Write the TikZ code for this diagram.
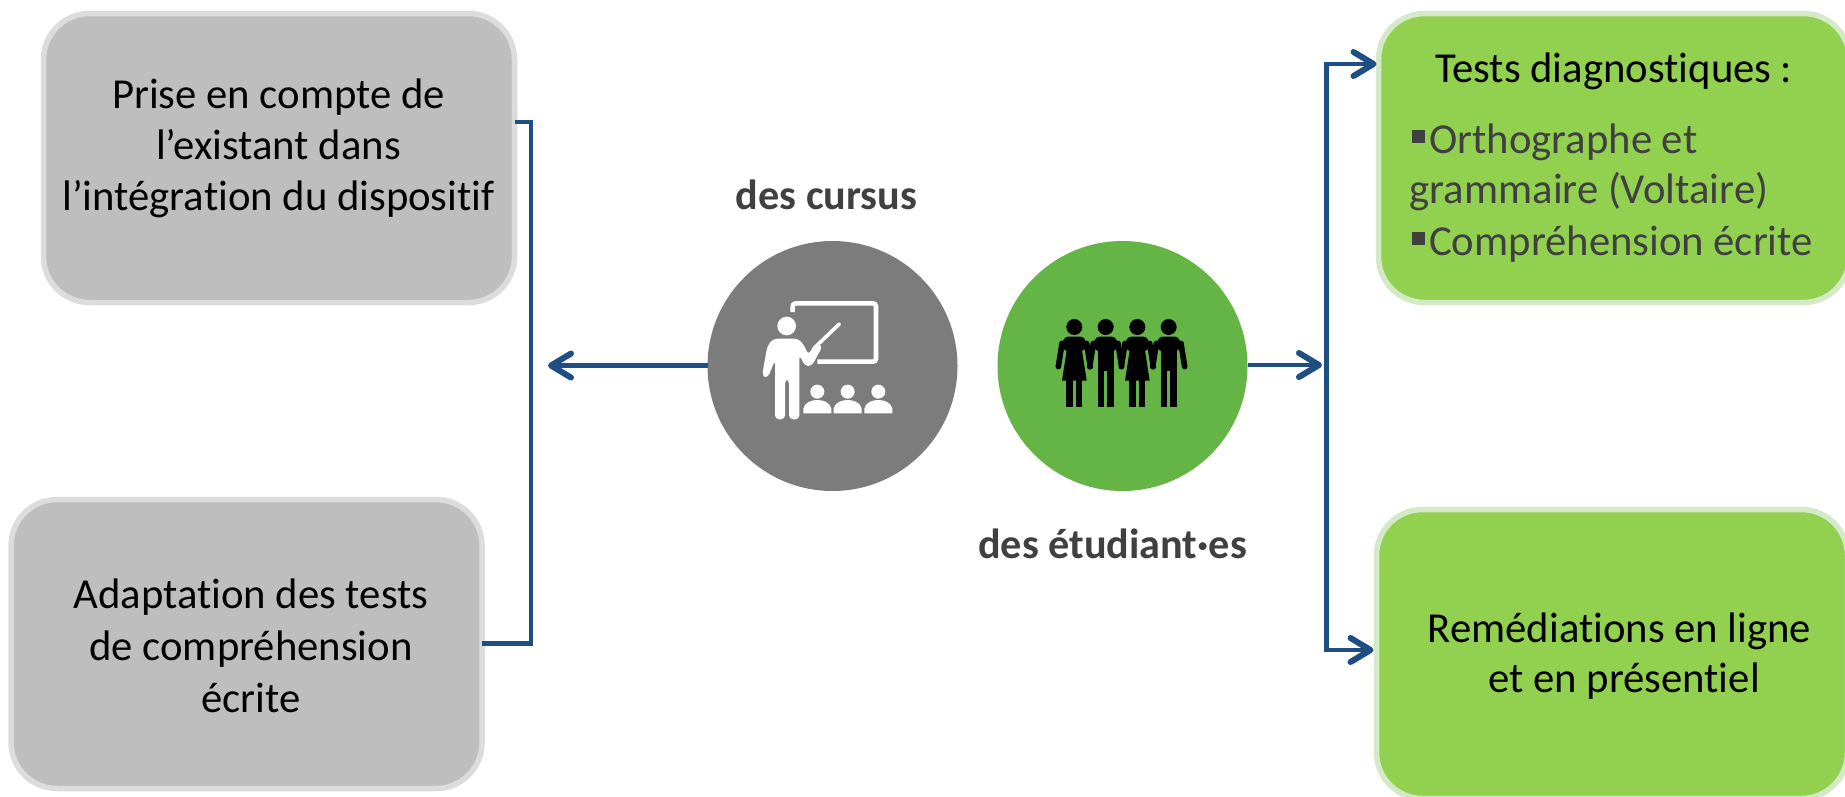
\documentclass[tikz,border=0pt]{standalone}
\usepackage{fontspec}
\setmainfont{Carlito}[Ligatures=NoCommon]
\usetikzlibrary{arrows.meta,calc}
\definecolor{linkblue}{HTML}{1F4E82}
\definecolor{boxgray}{HTML}{BEBEBE}
\definecolor{boxgrayline}{HTML}{DCDCDC}
\definecolor{boxgreen}{HTML}{92D14F}
\definecolor{boxgreenline}{HTML}{D4E9C7}
\definecolor{circgray}{HTML}{7C7C7C}
\definecolor{circgreen}{HTML}{64B446}
\definecolor{darktext}{HTML}{404040}
\tikzset{
  graybox/.style={draw=boxgrayline,fill=boxgray,line width=5.5pt,rounded corners=46pt,minimum width=471pt,minimum height=289pt,inner sep=0pt,outer sep=0pt},
  greenbox/.style={draw=boxgreenline,fill=boxgreen,line width=5.5pt,rounded corners=46pt,minimum width=471pt,minimum height=289pt,inner sep=0pt,outer sep=0pt},
  roundel/.style={circle,minimum size=250pt,inner sep=0pt,outer sep=0pt},
  boxtext/.style={font=\fontsize{42.7}{51}\selectfont,anchor=base,inner sep=0pt,text=black},
  bullettext/.style={font=\fontsize{42.7}{51}\selectfont,anchor=base west,inner sep=0pt,text=darktext},
  captiontext/.style={font=\fontsize{42.2}{51}\selectfont\bfseries,anchor=base,inner sep=0pt,text=darktext},
  linkline/.style={draw=linkblue,line width=4.8pt,line join=miter},
  linkarrow/.style={linkline,-{Straight Barb[length=20pt,width=24pt,round,line width=6pt]}},
}
\newcommand{\bulletsq}{\rule[10pt]{13pt}{13pt}\hspace{4pt}}
\begin{document}
\begin{tikzpicture}[x=1pt,y=-1pt]
\useasboundingbox (0,0) rectangle (1845,796);
\clip (0,0) rectangle (1845,796);

% boxes
\node[graybox]  (tl) at (279,158) {};
\node[graybox]  (bl) at (246.6,644) {};
\node[greenbox] (tr) at (1614,158) {};
\node[greenbox] (br) at (1612,654) {};

% circles
\node[roundel,fill=circgray]  (cg) at (832.5,366) {};
\node[roundel,fill=circgreen] (cv) at (1122.5,366) {};

% junction coordinates
\coordinate (ja) at (531,122);
\coordinate (jb) at (531,643.5);
\coordinate (ltip) at (548,365.5);
\coordinate (jc) at (1326.5,64);
\coordinate (jd) at (1326.5,650);
\coordinate (jm) at (1322,365);
\coordinate (jn) at (1326.5,365);

% connectors
\draw[linkline] (tl.east |- ja) -- (ja) -- (jb) -- (bl.east |- jb);
\draw[linkarrow] (cg.west |- ltip) -- (ltip);
\draw[linkarrow] (cv.east |- jm) -- (jm);
\draw[linkarrow] (jn) -- (jc) -- ($(tr.west |- jc)+(-2,0)$);
\draw[linkarrow] (jn) -- (jd) -- ($(br.west |- jd)+(-3,0)$);

% box texts
\node[boxtext] (t1) at (278.5,108) {Prise en compte de};
\node[boxtext] (t2) at (278.5,159) {l’existant dans};
\node[boxtext] (t3) at (278.5,210) {l’intégration du dispositif};
\node[boxtext] (t4) at (251,608) {Adaptation des tests};
\node[boxtext] (t5) at (251,660) {de compréhension};
\node[boxtext] (t6) at (251,712) {écrite};
\node[boxtext] (t7) at (1614,82) {Tests diagnostiques :};
\node[bullettext] (t8) at (1412,153) {\bulletsq Orthographe et};
\node[bullettext] (t9) at (1409.5,203) {grammaire (Voltaire)};
\node[bullettext] (t10) at (1412,255) {\bulletsq Compréhension écrite};
\node[boxtext] (t11) at (1619.5,642) {Remédiations en ligne};
\node[boxtext] (t12) at (1624,692) {et en présentiel};
\node[captiontext] (c1) at (826.5,209) {des cursus};
\node[captiontext] (c2) at (1112.5,558) {des étudiant·es};

% teacher icon (drawn in 1/3 px units)
\begin{scope}[shift={(740,290)},x=0.33333pt,y=-0.33333pt]
  \draw[white,line width=4.6pt,rounded corners=3pt] (158,66) -- (158,40) -- (408,40) -- (408,215) -- (232,215);
  \fill[white] (140,108) circle[radius=28];
  \fill[white,rounded corners=4pt] (105,388) -- (105,210) -- (83,264) -- (66,258) -- (82,168) -- (100,146) -- (175,146) -- (192,165) -- (205,195) -- (226,158) -- (248,168) -- (215,228) -- (195,228) -- (178,195) -- (178,388) -- (147,388) -- (147,268) -- (135,268) -- (135,388) -- cycle;
  \draw[white,line width=3.6pt,line cap=round] (232,165) -- (298,102);
  \foreach \c in {232,323,415} {
    \fill[white] (\c,305) circle[radius=21];
    \fill[white] (\c-42,370) -- (\c-42,355) .. controls (\c-37,337) and (\c-18,330) .. (\c,330) .. controls (\c+18,330) and (\c+37,337) .. (\c+42,355) -- (\c+42,370) -- cycle;
  }
\end{scope}

% students icon (drawn in 1/3 px units)
\begin{scope}[shift={(1050,310)},x=0.33333pt,y=-0.33333pt]
  \foreach \c/\w in {73/1,167/0,262/1,356/0} {
    \fill[black] (\c,51) circle[radius=24];
    \draw[black,line width=5.6pt,line cap=round] (\c-37,100) -- (\c-48,170);
    \draw[black,line width=5.6pt,line cap=round] (\c+37,100) -- (\c+48,170);
    \fill[black,rounded corners=3pt] (\c-40,108) -- (\c-28,80) -- (\c+28,80) -- (\c+40,108) -- (\c+24,125) -- (\c-24,125) -- cycle;
    \fill[black] (\c-24,292) rectangle (\c-5,200);
    \fill[black] (\c+5,292) rectangle (\c+24,200);
    \ifnum\w=1
      \fill[black] (\c-22,115) -- (\c+22,115) -- (\c+37,212) -- (\c-37,212) -- cycle;
    \else
      \fill[black] (\c-24,115) rectangle (\c+24,183);
      \fill[black] (\c-24,183) rectangle (\c-5,200);
      \fill[black] (\c+5,183) rectangle (\c+24,200);
    \fi
  }
\end{scope}
\end{tikzpicture}
\end{document}
